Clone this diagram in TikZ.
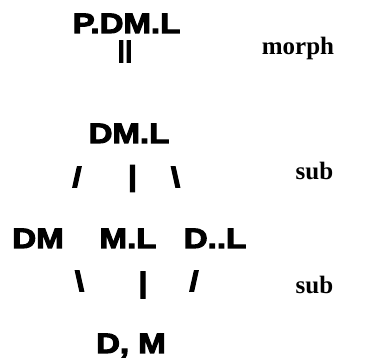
\documentclass[tikz,border=0pt]{standalone}
\usepackage{fontspec}
\newfontfamily\heavy[FakeBold=4,FakeStretch=1.18]{Liberation Sans Bold}
\newfontfamily\lbl{Liberation Serif Bold}
\tikzset{
  term/.style={inner sep=0pt, font=\heavy\fontsize{28}{28}\selectfont},
  link/.style={inner sep=0pt, font=\heavy\fontsize{28}{28}\selectfont},
  rel/.style={inner sep=0pt, font=\lbl\fontsize{25}{25}\selectfont},
}
\begin{document}
\begin{tikzpicture}[x=1pt,y=-1pt]
\useasboundingbox (0,0) rectangle (365,358);
% terms
\node[term, anchor=base] (pdml) at (126.5,33) {P.DM.L};
\node[term, anchor=base] (dml) at (129,143) {DM.L};
\node[term, anchor=base] (dm) at (38,248) {DM};
\node[term, anchor=base] (ml) at (128,248) {M.L};
\node[term, anchor=base] (dl) at (215,248) {D..L};
\node[term, anchor=base] (d_m) at (131,353) {D, M};
% links
\node[link, font=\heavy\fontsize{23}{23}\selectfont] (eq) at (125,51.5) {||};
\node[link] (s1) at (77,177) {/};
\node[link] (v1) at (132.5,178.5) {|};
\node[link] (b1) at (175.5,177) {\textbackslash};
\node[link] (b2) at (79.5,281) {\textbackslash};
\node[link] (v2) at (143,285) {|};
\node[link] (s2) at (194,281) {/};
% relation labels
\node[rel, anchor=base] (morph) at (298,55) {morph};
\node[rel, anchor=base] (sub1) at (314.5,180) {sub};
\node[rel, anchor=base] (sub2) at (314.5,294) {sub};
\end{tikzpicture}
\end{document}
